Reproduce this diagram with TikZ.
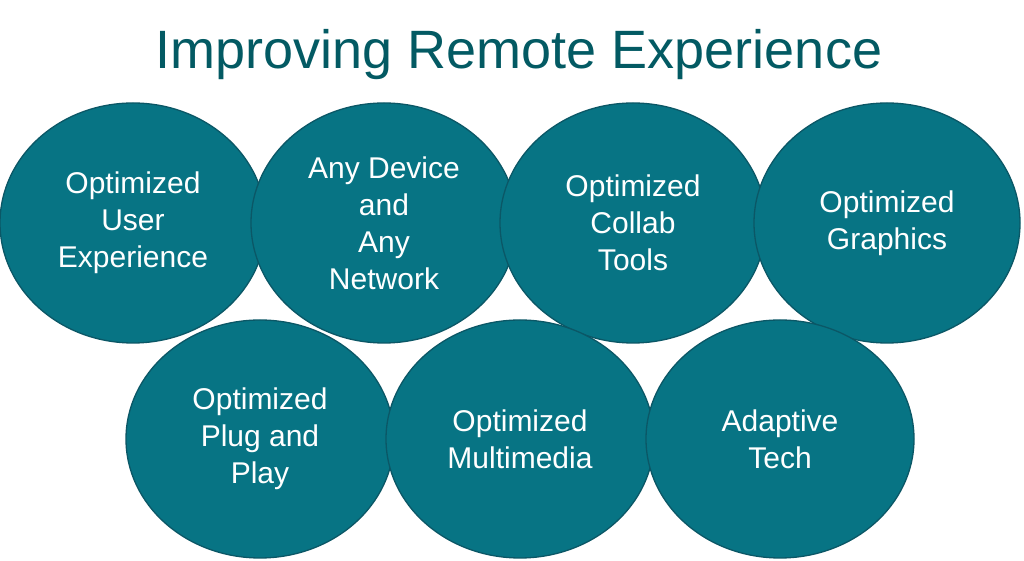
\documentclass[tikz,border=0pt]{standalone}
\usepackage{fontspec}
\setmainfont{Liberation Sans}
\usetikzlibrary{shapes.geometric}
\definecolor{tealfill}{HTML}{077484}
\definecolor{tealline}{HTML}{0B5766}
\definecolor{titlecol}{HTML}{035A63}
\tikzset{
  bubble/.style={ellipse, fill=tealfill, draw=tealline, line width=1.3pt,
    minimum width=266pt, minimum height=240pt, inner sep=0pt,
    text=white, align=center, font=\fontsize{30}{37}\selectfont},
  titletext/.style={text=titlecol, font=\fontsize{54}{60}\selectfont, inner sep=0pt, anchor=base}
}
\begin{document}
\begin{tikzpicture}[x=1pt,y=1pt]
\useasboundingbox (0,0) rectangle (1024,561);
\fill[white] (0,0) rectangle (1024,561);
\node[titletext] (title) at (519,492) {Improving Remote Experience};
\node[bubble] (b1) at (133,338) {Optimized\\User\\Experience};
\node[bubble] (b2) at (384,338) {Any Device\\and\\Any\\Network};
\node[bubble] (b3) at (633,338) {Optimized\\Collab\\Tools};
\node[bubble] (b4) at (887,338) {Optimized\\Graphics};
\node[bubble, minimum width=268pt, minimum height=238pt] (b5) at (260,122) {Optimized\\Plug and\\Play};
\node[bubble, minimum width=268pt, minimum height=238pt] (b6) at (520,122) {Optimized\\Multimedia};
\node[bubble, minimum width=268pt, minimum height=238pt] (b7) at (780,122) {Adaptive\\Tech};
\end{tikzpicture}
\end{document}
